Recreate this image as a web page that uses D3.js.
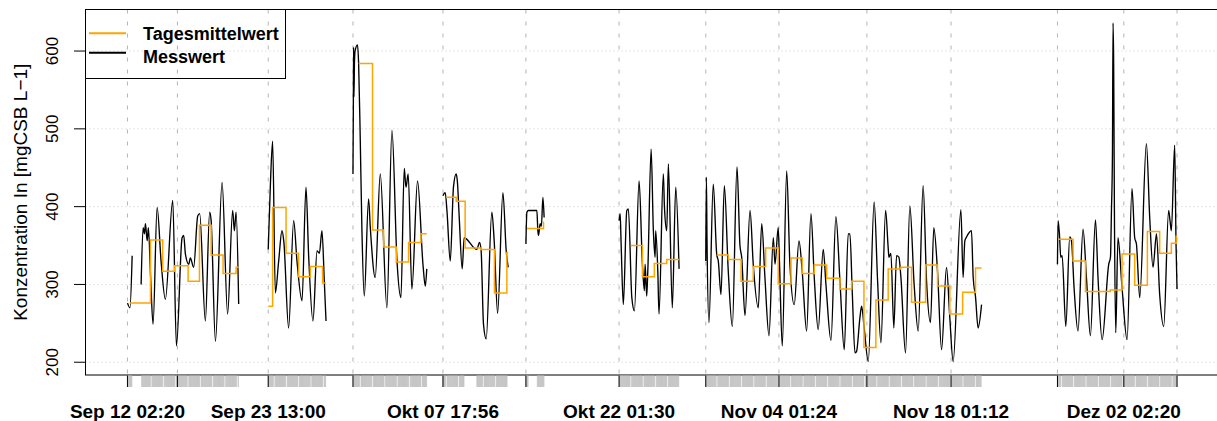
<!DOCTYPE html>
<html>
<head>
<meta charset="utf-8">
<title>Konzentration CSB</title>
<script src="https://cdn.jsdelivr.net/npm/d3@7"></script>
<style>
  body { margin: 0; background: #fff; }
  svg { display: block; font-family: "Liberation Sans", Arial, sans-serif; }
</style>
</head>
<body>
<svg id="chart" width="1217" height="421"></svg>
<script>
// all times are days since 2013-09-12 00:00 (UTC)
var startDay = Date.UTC(2013, 8, 12);

// Messwert, one array per continuous run of measurements: [day, mgCSB/L]
var messwert = [
  [[0.10,276],[0.30,270],[0.48,337]],
  [[1.21,300],[1.37,373],[1.48,365],[1.56,378],[1.70,356],[1.80,373],[1.97,313],[2.18,249],[2.51,399],[2.83,330],
   [3.18,281],[3.78,408],[4.08,221],[4.54,360],[4.67,363],[4.81,339],[5.08,326],[5.21,334],[5.48,322],[5.81,388],
   [5.97,391],[6.43,253],[6.78,393],[6.90,382],[7.25,227],[7.79,431],[8.24,262],[8.65,395],[8.79,369],[8.93,393],[9.14,275]],
  [[11.54,345],[11.71,425],[11.90,484],[12.12,289],[12.39,330],[12.66,369],[12.81,355],[13.20,244],[13.61,382],[13.88,330],
   [14.29,279],[14.61,425],[14.83,336],[15.18,253],[15.51,343],[15.70,340],[15.91,369],[16.10,304],[16.24,253]],
  [[18.43,442],[18.46,524],[18.48,605],[18.51,541],[18.55,584],[18.60,600],[18.80,608],[18.89,584],[19.02,489],[19.16,369],
   [19.35,285],[19.70,410],[19.84,373],[20.24,309],[20.65,442],[21.19,270],[21.60,498],[22.01,330],[22.33,283],[22.60,449],
   [22.74,425],[22.92,442],[23.22,294],[23.68,433],[24.12,326],[24.31,298],[24.43,320]],
  [[25.74,414],[25.93,418],[26.07,395],[26.34,330],[26.60,425],[26.82,442],[26.92,432],[27.07,386],[27.31,320],[27.47,360],
   [28.50,345],[28.72,354],[28.85,343],[29.04,249],[29.26,230],[29.72,393],[29.91,356],[30.19,263],[30.62,418],[30.89,343],[31.05,322]],
  [[32.49,352],[32.57,393],[32.70,395],[33.38,395],[33.46,369],[33.51,363],[33.65,378],[33.75,375],[33.87,412],[33.97,386]],
  [[40.06,382],[40.15,391],[40.23,352],[40.41,274],[40.69,395],[40.82,397],[41.10,283],[41.31,266],[41.69,433],[41.96,326],
   [42.12,292],[42.18,326],[42.31,285],[42.40,318],[42.67,474],[42.85,369],[42.99,335],[43.04,369],[43.21,318],[43.31,262],
   [43.66,442],[43.75,400],[43.94,369],[44.07,455],[44.39,270],[44.67,425],[44.94,320]],
  [[47.11,330],[47.16,438],[47.21,360],[47.37,251],[47.72,429],[48.00,339],[48.13,330],[48.35,287],[48.62,427],[48.94,317],
   [49.27,246],[49.65,451],[49.89,350],[50.03,335],[50.30,260],[50.71,395],[50.97,326],[51.38,270],[51.66,378],[51.92,309],
   [52.25,234],[52.60,360],[52.74,326],[53.00,373],[53.10,330],[53.33,221],[53.69,446],[53.95,326],[54.30,274],[54.69,356],
   [54.95,317],[55.31,240],[55.66,391],[55.93,309],[56.25,242],[56.66,345],[56.88,300],[57.29,228],[57.69,387],[58.02,304],
   [58.37,216],[58.69,365],[58.83,365],[59.02,290],[59.24,212],[59.37,214],[59.64,257],[59.78,272],[59.99,244],[60.32,201],
   [60.80,406],[61.08,304],[61.35,225],[61.73,395],[61.94,347],[62.00,335],[62.16,340],[62.40,244],[62.62,337],[62.81,335],
   [62.97,310],[63.35,212],[63.70,401],[64.05,300],[64.38,240],[64.78,427],[65.06,304],[65.38,251],[65.65,373],[65.95,317],
   [66.28,216],[66.68,322],[66.95,257],[67.22,201],[67.85,396],[68.03,309],[68.17,356],[68.31,361],[68.71,369],[68.85,309],
   [69.04,284],[69.25,244],[69.53,274]],
  [[75.70,326],[75.75,382],[75.86,365],[75.97,335],[76.08,337],[76.38,246],[76.70,361],[76.84,356],[77.05,296],[77.37,240],
   [77.78,371],[78.06,308],[78.38,234],[78.79,383],[79.00,308],[79.33,229],[79.87,326],[80.01,335],[80.09,395],[80.17,466],
   [80.22,636],[80.27,584],[80.33,395],[80.44,238],[80.62,360],[80.95,296],[81.36,229],[81.76,423],[81.98,360],[82.12,352],
   [82.39,283],[82.93,481],[83.20,386],[83.47,322],[83.75,365],[84.01,287],[84.34,246],[84.74,395],[84.85,382],[84.96,369],
   [85.23,479],[85.34,352],[85.42,294]]
];

// Tagesmittelwert as plotted steps: [day, mean]
var tagesmittel = [
  [[0.28,276],[1.97,357],[2.96,317],[3.94,324],[5.03,304],[5.95,376],[6.90,338],[7.87,314],[8.93,322],[9.14,322]],
  [[11.55,272],[11.90,399],[12.99,340],[14.01,310],[14.96,323],[15.96,302],[16.24,302]],
  [[18.89,584],[20.02,370],[20.92,348],[21.95,329],[22.95,354],[23.96,365],[24.43,365]],
  [[25.99,412],[26.82,407],[27.55,347],[28.83,345],[29.93,289],[30.94,341],[31.05,341]],
  [[32.57,372],[33.92,380],[33.97,380]],
  [[41.01,350],[41.96,310],[42.93,327],[43.94,332],[44.94,332]],
  [[48.00,338],[48.94,332],[49.98,304],[50.97,323],[51.98,347],[53.00,301],[54.04,334],[54.95,314],[55.93,325],[56.94,308],
   [58.02,294],[58.97,304],[59.97,219],[60.94,280],[61.94,320],[62.97,322],[63.84,277],[64.98,325],[65.95,298],[66.95,262],
   [67.99,290],[69.04,321],[69.53,321]],
  [[75.75,358],[76.97,330],[77.98,291],[79.00,291],[79.99,293],[80.95,339],[81.98,299],[83.01,368],[84.01,340],[84.96,353],
   [85.35,362],[85.42,362]]
];

// periods with observations (minor ticks under the axis)
var messPerioden = [[0.10,0.48],[1.21,9.14],[11.54,16.24],[18.43,24.43],[25.74,27.47],[28.50,31.05],
  [32.49,32.70],[33.38,33.97],[40.06,44.94],[47.11,69.53],[75.70,85.42]];

var majorTicks = ['2013-09-12 02:20','2013-09-16 03:50','2013-09-23 13:00','2013-09-30 10:20','2013-10-07 17:56',
  '2013-10-14 11:45','2013-10-22 01:30','2013-10-29 02:40','2013-11-04 01:24','2013-11-11 05:00','2013-11-18 01:12',
  '2013-11-26 16:50','2013-12-02 02:20','2013-12-06 10:05'];
var yTicks = [200, 300, 400, 500, 600];
var legendLabels = ['Tagesmittelwert', 'Messwert'];
var legendColors = ['#FFA500', '#000000'];
var yTitle = 'Konzentration In [mgCSB L\u22121]';

var toDate = function(d) { return new Date(startDay + d * 864e5); };

var de = d3.timeFormatLocale({
  dateTime: '%A, der %e. %B %Y, %X', date: '%d.%m.%Y', time: '%H:%M:%S', periods: ['AM', 'PM'],
  days: ['Sonntag','Montag','Dienstag','Mittwoch','Donnerstag','Freitag','Samstag'],
  shortDays: ['So','Mo','Di','Mi','Do','Fr','Sa'],
  months: ['Januar','Februar','März','April','Mai','Juni','Juli','August','September','Oktober','November','Dezember'],
  shortMonths: ['Jan','Feb','Mär','Apr','Mai','Jun','Jul','Aug','Sep','Okt','Nov','Dez']
});
var fmt = de.utcFormat('%b %d %H:%M');
var parse = d3.utcParse('%Y-%m-%d %H:%M');

// plot frame (window.top is read-only, so no plain "top" here)
var pLeft = 85.5, pRight = 1219, pTop = 9.5, pBottom = 375;
var svg = d3.select('#chart');

var allPts = d3.merge(messwert);
var tExt = d3.extent(allPts, function(d) { return d[0]; });
var vExt = d3.extent(allPts, function(d) { return d[1]; });
var tPad = (tExt[1] - tExt[0]) * 0.04, vPad = (vExt[1] - vExt[0]) * 0.04;

var x = d3.scaleUtc()
    .domain([toDate(tExt[0] - tPad), toDate(tExt[1] + tPad)])
    .range([pLeft, pRight]);
var y = d3.scaleLinear()
    .domain([vExt[0] - vPad, vExt[1] + vPad])
    .range([pBottom, pTop]);

// grid
svg.append('g').selectAll('line').data(yTicks).enter().append('line')
    .attr('x1', pLeft).attr('x2', pRight)
    .attr('y1', function(d) { return y(d); }).attr('y2', function(d) { return y(d); })
    .attr('stroke', '#cccccc').attr('stroke-dasharray', '1,3');
svg.append('g').selectAll('line').data(majorTicks).enter().append('line')
    .attr('x1', function(d) { return x(parse(d)); }).attr('x2', function(d) { return x(parse(d)); })
    .attr('y1', pTop).attr('y2', pBottom)
    .attr('stroke', '#b4b4b4').attr('stroke-dasharray', '4,8');

// series
var mLine = d3.line()
    .x(function(d) { return x(toDate(d[0])); })
    .y(function(d) { return y(d[1]); })
    .curve(d3.curveMonotoneX);
var tLine = d3.line()
    .x(function(d) { return x(toDate(d[0])); })
    .y(function(d) { return y(d[1]); })
    .curve(d3.curveStepAfter);

svg.append('g').selectAll('path').data(messwert).enter().append('path')
    .attr('d', mLine).attr('fill', 'none')
    .attr('stroke', '#000').attr('stroke-width', 1.35);
svg.append('g').selectAll('path').data(tagesmittel).enter().append('path')
    .attr('d', tLine).attr('fill', 'none')
    .attr('stroke', '#FFA500').attr('stroke-width', 1.5);

// box
svg.append('rect')
    .attr('x', pLeft).attr('y', pTop)
    .attr('width', pRight - pLeft).attr('height', pBottom - pTop)
    .attr('fill', 'none').attr('stroke', '#000');

// y axis
var ya = svg.append('g');
ya.selectAll('line').data(yTicks).enter().append('line')
    .attr('x1', 74).attr('x2', pLeft)
    .attr('y1', function(d) { return y(d); }).attr('y2', function(d) { return y(d); })
    .attr('stroke', '#000');
ya.selectAll('text').data(yTicks).enter().append('text')
    .attr('transform', function(d) { return 'translate(57.5,' + y(d) + ') rotate(-90)'; })
    .attr('text-anchor', 'middle').attr('font-size', 17)
    .text(function(d) { return d; });
svg.append('text')
    .attr('transform', 'translate(26.5,' + ((pTop + pBottom) / 2) + ') rotate(-90)')
    .attr('text-anchor', 'middle').attr('font-size', 19)
    .text(yTitle);

// x axis: minor ticks at each hour with data, major ticks weekly
var rug = svg.append('g').attr('stroke', '#bdbdbd').attr('stroke-width', 0.7);
messPerioden.forEach(function(p) {
  var hours = d3.utcHour.range(toDate(p[0]), toDate(p[1]))
      .filter(function(h) { return h.getUTCHours() > 1; });
  rug.selectAll(null).data(hours).enter().append('line')
      .attr('x1', function(d) { return x(d); }).attr('x2', function(d) { return x(d); })
      .attr('y1', pBottom + 0.5).attr('y2', 387);
});
svg.append('g').selectAll('line').data(majorTicks).enter().append('line')
    .attr('x1', function(d) { return x(parse(d)); }).attr('x2', function(d) { return x(parse(d)); })
    .attr('y1', pBottom + 0.5).attr('y2', 387)
    .attr('stroke', '#000');

// labels that would overlap the previous one are dropped
var lastEnd = -Infinity;
var xl = svg.append('g');
majorTicks.forEach(function(s) {
  var px = x(parse(s));
  var t = xl.append('text')
      .attr('x', px).attr('y', 418)
      .attr('text-anchor', 'middle').attr('font-size', 19).attr('font-weight', 'bold')
      .text(fmt(parse(s)));
  var w = t.node().getComputedTextLength();
  if (px - w / 2 < lastEnd) { t.remove(); } else { lastEnd = px + w / 2; }
});

// legend
var lg = svg.append('g');
lg.append('rect')
    .attr('x', pLeft).attr('y', pTop).attr('width', 200).attr('height', 69)
    .attr('fill', 'none').attr('stroke', '#000');
legendLabels.forEach(function(l, i) {
  lg.append('line')
      .attr('x1', 89).attr('x2', 126)
      .attr('y1', 33.3 + i * 19.5).attr('y2', 33.3 + i * 19.5)
      .attr('stroke', legendColors[i]).attr('stroke-width', 2);
  lg.append('text')
      .attr('x', 143).attr('y', 40 + i * 23)
      .attr('font-size', 18).attr('font-weight', 'bold')
      .text(l);
});
</script>
</body>
</html>
